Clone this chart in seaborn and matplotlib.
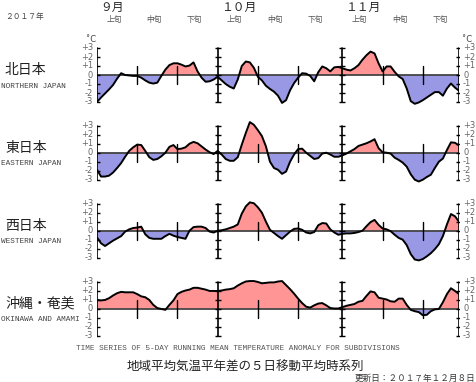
import matplotlib
matplotlib.use("Agg")
import matplotlib.pyplot as plt
import seaborn as sns
import numpy as np
import pandas as pd

# days since Sep 1 (0 = Sep 1, 30 = Oct 1, 61 = Nov 1, 90 = Nov 30)
days = list(range(91))

north = [-3.0, -2.5, -2.05, -1.6, -1.1, -0.4, 0.2, 0.0, -0.05, -0.1,
         -0.1, -0.3, -0.6, -0.85, -0.95, -0.85, -0.1, 0.6, 1.1, 1.3,
         1.3, 1.15, 0.95, 1.05, 1.4, 0.4, -0.3, -0.75, -0.7, -0.5,
         -0.2, -0.6, -1.0, -1.3, -1.5, -0.5, 1.0, 1.5, 1.4, 0.8,
         -0.2, -0.6, -1.2, -1.55, -1.85, -2.3, -3.1, -2.8, -1.7, -0.9,
         -0.3, 0.2, 0.15, -0.1, -0.7, 0.3, 0.95, 0.75, 0.4, 0.85,
         0.9, 0.75, 0.6, 0.5, 0.75, 1.1, 1.7, 2.2, 2.6, 2.4,
         1.3, 0.4, 0.95, 0.95, 0.35, -0.15, -0.45, -1.5, -2.9, -3.2,
         -3.05, -2.8, -2.5, -2.2, -1.9, -1.9, -2.3, -1.5, -0.95, -1.4,
         -1.75]

east = [-1.9, -2.65, -2.65, -2.55, -2.2, -1.7, -1.15, -0.45, 0.2, 0.6,
        0.9, 0.85, 0.2, -0.5, -0.8, -0.7, -0.4, 0.0, 0.65, 0.85,
        0.4, 0.45, 0.6, 1.0, 1.2, 1.05, 0.7, 0.35, 0.05, -0.15,
        0.2, -0.2, -0.7, -0.9, -0.9, -0.5, 0.9, 2.2, 3.4, 3.1,
        2.5, 1.85, 0.7, -1.0, -1.7, -1.9, -2.35, -2.1, -1.0, -0.2,
        0.4, 0.45, 0.0, -0.35, -0.7, -0.6, -0.1, 0.0, -0.2, -0.45,
        -0.45, -0.3, -0.1, 0.15, 0.4, 0.75, 0.9, 1.05, 1.25, 1.5,
        0.5, 0.05, 0.0, -0.1, -0.55, -0.8, -1.1, -1.55, -2.4, -3.0,
        -3.2, -3.0, -2.7, -2.45, -1.7, -1.0, -0.65, 0.3, 1.15, 1.1,
        0.8]

west = [-0.75, -1.4, -1.7, -1.4, -1.1, -0.85, -0.6, -0.1, 0.15, 0.3,
        0.35, 0.45, -0.4, -0.8, -0.9, -0.9, -0.9, -0.6, -0.35, -0.55,
        -0.7, -0.8, -0.9, 0.0, 0.4, 0.45, 0.45, 0.3, -0.1, -0.2,
        0.0, 0.05, 0.15, 0.3, 0.45, 0.7, 1.9, 2.7, 3.15, 3.05,
        2.6, 2.0, 1.0, 0.1, -0.25, -0.6, -0.9, -0.5, -0.1, 0.2,
        0.25, 0.1, -0.2, -0.3, -0.15, 0.6, 0.85, 0.8, 0.15, -0.2,
        -0.45, -0.35, -0.3, -0.3, -0.25, -0.15, 0.0, 0.5, 0.95, 1.2,
        0.65, 0.25, 0.15, -0.05, -0.45, -0.8, -1.0, -1.6, -2.6, -3.2,
        -3.3, -3.15, -2.85, -2.5, -2.05, -1.5, -0.6, 0.7, 1.85, 1.6,
        1.0]

okinawa = [0.95, 0.9, 0.95, 1.15, 1.45, 1.7, 1.85, 1.8, 1.8, 1.8,
           1.6, 1.35, 1.25, 0.95, 0.4, 0.05, -0.05, -0.15, 0.4, 0.9,
           1.6, 1.85, 2.0, 2.1, 2.3, 2.3, 2.2, 2.1, 1.95, 1.95,
           1.95, 2.0, 2.1, 2.15, 2.25, 2.55, 2.8, 3.0, 3.05, 3.05,
           2.95, 2.8, 2.85, 2.9, 2.9, 3.0, 3.05, 2.6, 2.15, 1.65,
           1.1, 0.6, 0.2, 0.1, 0.35, 0.55, 0.6, 0.35, 0.05, 0.0,
           0.0, 0.15, 0.3, 0.4, 0.5, 0.75, 0.85, 1.4, 1.9, 1.8,
           1.2, 1.1, 1.0, 0.8, 0.75, 1.1, 1.1, 0.4, -0.15, -0.3,
           -0.4, -0.75, -0.7, -0.3, -0.1, -0.05, 0.7, 1.6, 2.25, 1.95,
           1.6]

regions_jp = ["北日本", "東日本", "西日本", "沖縄・奄美"]
regions_en = ["NORTHERN JAPAN", "EASTERN JAPAN", "WESTERN JAPAN", "OKINAWA AND AMAMI"]
series = [north, east, west, okinawa]

month_labels = ["９月", "１０月", "１１月"]
month_starts = [0, 30, 61]
month_ends = [30, 61, 90]
dekad_lines = [10, 20, 40, 50, 71, 81]
dekad_labels = ["上旬", "中旬", "下旬"]
yticks = [3, 2, 1, 0, -1, -2, -3]
ytick_labels = ["+3", "+2", "+1", "0", "-1", "-2", "-3"]

sns.set_style("white")
plt.rcParams['font.family'] = ['Noto Sans CJK JP', 'DejaVu Sans']

W, H = 476, 382
fig = plt.figure(figsize=(W / 100, H / 100), dpi=100)


def px(x, y):
    return x / W, 1 - y / H


# pixel positions of the panels
left_px, right_px = 97, 459
zero_px = [75, 152.7, 230.7, 308.5]
half = 36  # 4 units * 9 px

red = "#ff9595"
blue = "#9898e4"
mono = "Liberation Mono"

for i, vals in enumerate(series):
    zy = zero_px[i]
    ax = fig.add_axes([left_px / W, (H - zy - half) / H, (right_px - left_px) / W, 2 * half / H])
    ax.set_xlim(0, 90)
    ax.set_ylim(-4, 4)
    ax.axis("off")

    df = pd.DataFrame({"day": days, "anom": vals})
    v = np.array(vals)
    ax.fill_between(df["day"], v, 0, where=v >= 0, interpolate=True, color=red, lw=0)
    ax.fill_between(df["day"], v, 0, where=v <= 0, interpolate=True, color=blue, lw=0)
    ax.plot([0, 90], [0, 0], color="#444444", lw=1.3, zorder=3)

    # month lines with integer ticks
    for d in [0, 30, 61, 90]:
        ax.plot([d, d], [-3, 3], color="black", lw=1.2, zorder=4)
        ax.plot([d] * 7, yticks, ls="none", marker="_", ms=5, mew=1.0, color="black", zorder=4)
    for d in dekad_lines:
        ax.plot([d, d], [-1, 1], color="black", lw=1.0, zorder=4)

    sns.lineplot(data=df, x="day", y="anom", ax=ax, color="black", lw=1.4, zorder=5)
    ax.set_xlim(0, 90)
    ax.set_ylim(-4, 4)

    # y tick labels on both sides
    for t, lab in zip(yticks, ytick_labels):
        yy = zy - t * 9
        fig.text(*px(93, yy), lab, ha="right", va="center", fontsize=6,
                 color="#666666", family="DejaVu Sans")
        fig.text(*px(463, yy), lab, ha="left", va="center", fontsize=6,
                 color="#666666", family="DejaVu Sans")

    # region labels
    fig.text(*px(5, zy - 5), regions_jp[i], ha="left", va="center", fontsize=10, color="#222222")
    fig.text(*px(1, zy + 11), regions_en[i], ha="left", va="center", fontsize=5.6,
             color="#444444", family=mono)

# degree labels
fig.text(*px(86, 39), "˚C", ha="left", va="center", fontsize=6, color="#444444", family="DejaVu Sans")
fig.text(*px(462, 39), "˚C", ha="left", va="center", fontsize=6, color="#444444", family="DejaVu Sans")

# month and dekad labels
for lab, s, e in zip(month_labels, month_starts, month_ends):
    x0 = left_px + s * (right_px - left_px) / 90
    fig.text(*px(x0 + 3, 7), lab, ha="left", va="center", fontsize=8.5, color="#222222")
    for k, dl in enumerate(dekad_labels):
        cx = left_px + (s + 10 * k + 5) * (right_px - left_px) / 90 - 3
        fig.text(*px(cx, 20), dl, ha="center", va="center", fontsize=5.6, color="#555555")

fig.text(*px(5, 17), "２０１７年", ha="left", va="center", fontsize=5.6, color="#444444")

fig.text(*px(238, 348), "TIME SERIES OF 5-DAY RUNNING MEAN TEMPERATURE ANOMALY FOR SUBDIVISIONS",
         ha="center", va="center", fontsize=5.6, color="#555555", family=mono)
fig.text(*px(245, 367), "地域平均気温平年差の５日移動平均時系列", ha="center", va="center",
         fontsize=9, color="#222222")
fig.text(*px(475, 378), "更新日：２０１７年１２月８日", ha="right", va="center",
         fontsize=6.2, color="#333333")

fig.savefig("out.png", dpi=100)
